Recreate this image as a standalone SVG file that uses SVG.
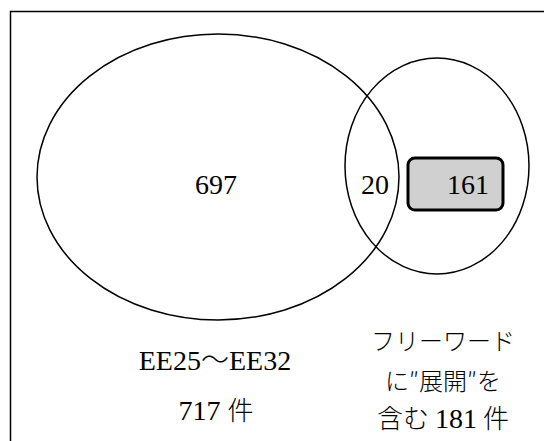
<svg xmlns="http://www.w3.org/2000/svg" width="544" height="441" viewBox="0 0 544 441">
<style>
.l{fill:none;stroke:#000;stroke-width:1.5}
.t{font-family:'Liberation Serif',serif;font-size:28px;fill:#000;text-anchor:middle}
.j{font-family:'Liberation Serif','Noto Sans CJK JP',serif;font-size:24px;fill:#000;text-anchor:middle}
.c{font-family:'Noto Sans CJK JP',sans-serif;font-weight:300}
</style>
<rect width="544" height="441" fill="#fff"/>
<rect x="10.5" y="11.5" width="560" height="460" class="l"/>
<g id="setA">
<ellipse cx="218" cy="177" rx="181" ry="143" class="l"/>
<text class="t" x="216" y="194">697</text>
</g>
<g id="setB">
<ellipse cx="437" cy="166" rx="92" ry="108" class="l"/>
</g>
<g id="overlap">
<text class="t" x="375" y="194">20</text>
</g>
<g id="onlyB">
<rect x="408" y="158" width="95" height="52" rx="7" fill="#d0d0d0" stroke="#000" stroke-width="3"/>
<text class="t" x="468" y="194">161</text>
</g>
<g id="labelA">
<text class="t" x="215" y="370" font-size="27">EE25<tspan class="c">～</tspan>EE32</text>
<text class="t" x="216" y="420">717 <tspan class="c" font-size="26">件</tspan></text>
</g>
<g id="labelB">
<text class="j" x="443" y="350"><tspan class="c">フリーワード</tspan></text>
<text class="j" x="443" y="390"><tspan class="c">に″展開″を</tspan></text>
<text class="j" x="443" y="428"><tspan class="c" font-size="26">含む</tspan> <tspan font-size="28">181</tspan> <tspan class="c" font-size="26">件</tspan></text>
</g>
<g id="connectors"></g>
</svg>
